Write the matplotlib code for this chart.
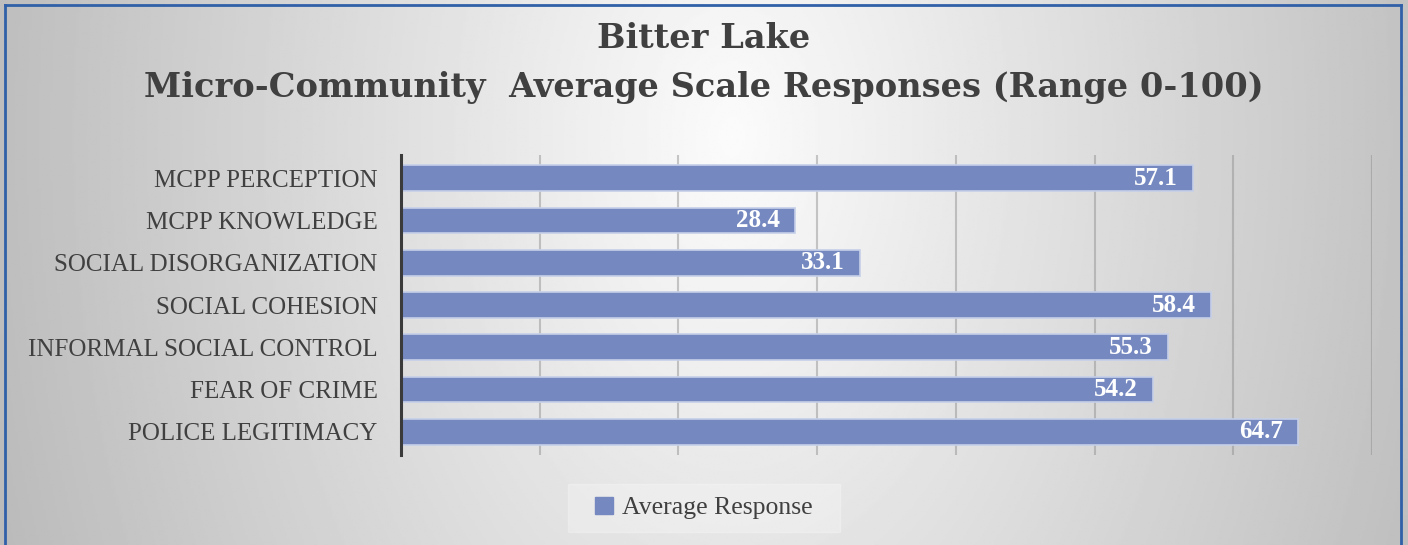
from matplotlib import pyplot as plt
from matplotlib.lines import Line2D
from matplotlib.patches import Rectangle
import numpy as np

# Datos del gráfico
categorias = ["MCPP PERCEPTION", "MCPP KNOWLEDGE", "SOCIAL DISORGANIZATION",
              "SOCIAL COHESION", "INFORMAL SOCIAL CONTROL", "FEAR OF CRIME",
              "POLICE LEGITIMACY"]
valores = [57.1, 28.4, 33.1, 58.4, 55.3, 54.2, 64.7]
serie = "Average Response"
titulo = ["Bitter Lake", "Micro-Community  Average Scale Responses (Range 0-100)"]
marcas_x = [0, 10, 20, 30, 40, 50, 60, 70]

fuente = ["Liberation Serif", "DejaVu Serif"]
fuente_titulo = ["DejaVu Serif"]
color_barra = "#7589c0"
color_texto = "#404040"

fig = plt.figure(figsize=(14.08, 5.45), dpi=100)
W, H = 1408, 545

# Fondo con degradado radial (más estirado en horizontal)
fondo = fig.add_axes([0, 0, 1, 1], zorder=-10)
yy, xx = np.mgrid[0:1:300j, 0:1:600j]
d = np.sqrt(((xx - 0.52) / 0.5) ** 2 + ((yy - 0.25) / 2.0) ** 2)
gris = np.clip(0.985 - 0.23 * d, 0.72, 1.0)
fondo.imshow(gris, cmap="gray", vmin=0, vmax=1, aspect="auto",
             extent=[0, 1, 1, 0])
fondo.set_xlim(0, 1)
fondo.set_ylim(1, 0)
fondo.axis("off")

# Marco azul
borde = dict(color="#3060a8", linewidth=2, transform=fig.transFigure)
fig.add_artist(Line2D([5 / W, 5 / W], [0, 1 - 5 / H], **borde))
fig.add_artist(Line2D([5 / W, 1401 / W], [1 - 5 / H, 1 - 5 / H], **borde))
fig.add_artist(Line2D([1401 / W, 1401 / W], [0, 1 - 5 / H], **borde))

ax = fig.add_axes([401 / W, 1 - 455 / H, (1372 - 401) / W, 300 / H])
ax.patch.set_alpha(0)

y = np.arange(len(categorias))
barras = ax.barh(y, valores, height=0.61, color=color_barra,
                 edgecolor="#c5cfe8", linewidth=1.2, zorder=3)

# Etiquetas de valor dentro de la barra
for b, v in zip(barras, valores):
    ax.annotate(f"{v:.1f}", xy=(v, b.get_y() + b.get_height() / 2),
                xytext=(-11, 0), textcoords="offset points",
                ha="right", va="center", color="white", fontsize=18,
                fontweight="bold", family=fuente, zorder=4)

ax.set_xlim(0, 70)
ax.set_ylim(len(categorias) - 0.45, -0.55)
ax.set_xticks(marcas_x)
ax.set_xticklabels([])
ax.set_yticks(y)
ax.set_yticklabels(categorias, fontsize=18, color=color_texto, family=fuente)
ax.tick_params(length=0, pad=17)
ax.grid(axis="x", color="#8a8a8a", alpha=0.45, linewidth=1.5, zorder=1)
for s in ["top", "right", "bottom"]:
    ax.spines[s].set_visible(False)
ax.spines["left"].set_color("#3a3a3a")
ax.spines["left"].set_linewidth(2.2)
ax.spines["left"].set_zorder(5)

# Título en dos líneas
for linea, base in zip(titulo, [48, 97]):
    fig.text(0.5, 1 - base / H, linea, ha="center", va="baseline",
             fontsize=24.2, fontweight="bold", color=color_texto,
             family=fuente_titulo)

# Leyenda
fig.add_artist(Rectangle((568 / W, 1 - 532 / H), (840 - 568) / W, 48 / H,
                         transform=fig.transFigure, color="white",
                         alpha=0.25, zorder=0))
ley = fig.legend([Rectangle((0, 0), 1, 1, color=color_barra)], [serie],
                 loc="center", bbox_to_anchor=(704 / W, 1 - 508 / H),
                 frameon=False, handlelength=0.7, handleheight=0.7,
                 handletextpad=0.35,
                 prop=dict(family=fuente, size=18.5))
for t in ley.get_texts():
    t.set_color(color_texto)

fig.savefig("out.png", dpi=100)
